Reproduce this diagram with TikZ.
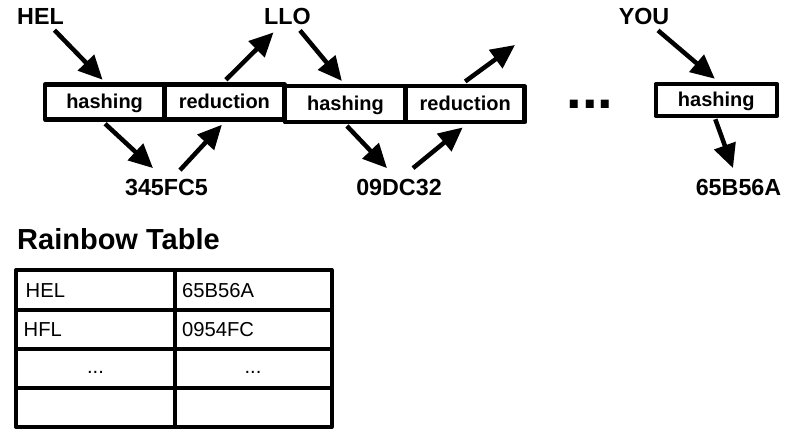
\documentclass[tikz,border=0pt]{standalone}
\usepackage{fontspec}
\setmainfont{Liberation Sans}
\usetikzlibrary{arrows.meta}
\begin{document}
\begin{tikzpicture}[x=1pt,y=-1pt,
  box/.style={draw, line width=4.5pt, line join=round, inner sep=0pt,
    font=\bfseries\fontsize{20}{22}\selectfont, text height=15pt, text depth=2pt},
  lbl/.style={font=\bfseries\fontsize{23.3}{25}\selectfont, inner sep=0pt, anchor=base},
  arr/.style={line width=4.5pt, -{Triangle[length=24pt,width=22pt]}},
  cell/.style={font=\fontsize{20.2}{22}\selectfont, inner sep=0pt},
  grid/.style={line width=4pt, line join=round}]
\useasboundingbox (0,0) rectangle (791,441);

% boxes
\node[box, minimum width=119pt, minimum height=35pt] (h1) at (104.6,102) {hashing};
\node[box, minimum width=120pt, minimum height=35pt] (r1) at (224.4,102) {reduction};
\node[box, minimum width=121pt, minimum height=36pt] (h2) at (345.4,104.2) {hashing};
\node[box, minimum width=119pt, minimum height=36pt] (r2) at (465.2,104.2) {reduction};
\node[box, minimum width=121pt, minimum height=32pt] (h3) at (716.3,100) {hashing};

% labels
\node[lbl] (hel) at (40.5,25) {HEL};
\node[lbl] (llo) at (287.5,25) {LLO};
\node[lbl] (you) at (644,25) {YOU};
\node[lbl] (n1) at (166.5,195) {345FC5};
\node[lbl] (n2) at (399,195) {09DC32};
\node[lbl] (n3) at (738.5,195) {65B56A};
\node[font=\bfseries\fontsize{56}{60}\selectfont, inner sep=0pt] (dots) at (590,104) {...};
\coordinate (free) at (515,45);

% arrows
\draw[arr] ([shift={(14,5)}]hel.south) -- ([shift={(-2,-2.5)}]h1.north);
\draw[arr] ([shift={(0.5,2)}]h1.south) -- ([shift={(-13.5,-10.4)}]n1.north);
\draw[arr] ([shift={(13.5,-8.4)}]n1.north) -- ([shift={(-2.5,3)}]r1.south);
\draw[arr] ([shift={(1.5,-2.5)}]r1.north) -- ([shift={(-14,7)}]llo.south);
\draw[arr] ([shift={(12.5,5)}]llo.south) -- ([shift={(-3.5,-3)}]h2.north);
\draw[arr] ([shift={(1.5,1.5)}]h2.south) -- ([shift={(-12,-10.4)}]n2.north);
\draw[arr] ([shift={(14,-10.4)}]n2.north) -- ([shift={(-2.5,3)}]r2.south);
\draw[arr] ([shift={(0,-2.5)}]r2.north) -- (free);
\draw[arr] ([shift={(14,5)}]you.south) -- ([shift={(-1.5,-3)}]h3.north);
\draw[arr] ([shift={(-1,1)}]h3.south) -- ([shift={(-5.5,-10.4)}]n3.north);

% rainbow table
\node[font=\bfseries\fontsize{29}{32}\selectfont, inner sep=0pt, anchor=base west] (title) at (17,249.5) {Rainbow Table};
\draw[grid] (16,270) rectangle (331.5,427);
\draw[grid] (175,270) -- (175,427);
\draw[grid] (16,310) -- (331.5,310);
\draw[grid] (16,349) -- (331.5,349);
\draw[grid] (16,388) -- (331.5,388);
\node[cell, anchor=base west] (c11) at (25.5,297.3) {HEL};
\node[cell, anchor=base west] (c12) at (182,297.3) {65B56A};
\node[cell, anchor=base west] (c21) at (23.5,336) {HFL};
\node[cell, anchor=base west] (c22) at (182,336) {0954FC};
\node[cell, anchor=base] (c31) at (95.5,373.5) {...};
\node[cell, anchor=base] (c32) at (253,373.5) {...};
\end{tikzpicture}
\end{document}
